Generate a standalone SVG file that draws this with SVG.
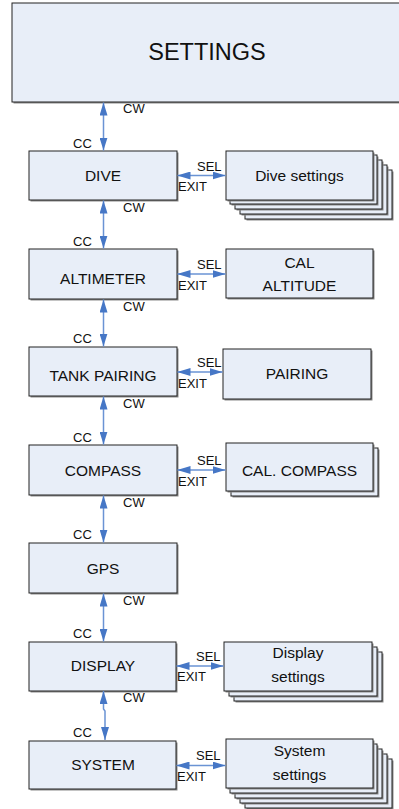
<svg xmlns="http://www.w3.org/2000/svg" width="399" height="809" viewBox="0 0 399 809">
<defs>
<style>
.box{fill:#E8EEF8;stroke:#222;stroke-width:1}
.shadow{fill:#8A8A8A}
.t{font-family:"Liberation Sans",Arial,sans-serif;font-size:15.5px;fill:#111;text-anchor:middle}
.lbl{font-family:"Liberation Sans",Arial,sans-serif;font-size:13px;fill:#111}
.conn{stroke:#6A93D4;stroke-width:1.5;fill:none;marker-start:url(#ah);marker-end:url(#ah)}
</style>
<marker id="ah" markerUnits="userSpaceOnUse" markerWidth="13" markerHeight="8" refX="13" refY="4" orient="auto-start-reverse">
<path d="M0,0 L13,4 L0,8 z" fill="#4677C6"/>
</marker>
</defs>
<rect width="399" height="809" fill="#FFFFFF"/>

<g id="settings">
<rect class="shadow" x="13.5" y="4.5" width="388" height="99"/>
<rect class="box" x="12" y="3" width="388" height="99"/>
<text class="t" x="207" y="60" style="font-size:23.5px">SETTINGS</text>
</g>

<g id="dive">
<rect class="shadow" x="30.5" y="152.5" width="148" height="49"/>
<rect class="box" x="29" y="151" width="148" height="49"/>
<text class="t" x="103" y="181">DIVE</text>
</g>
<g id="dive-settings">
<rect class="shadow" x="246.5" y="171.5" width="147" height="49"/>
<rect class="box" x="245" y="170" width="147" height="49"/>
<rect class="shadow" x="241.5" y="166.5" width="147" height="49"/>
<rect class="box" x="240" y="165" width="147" height="49"/>
<rect class="shadow" x="236.5" y="161.5" width="147" height="49"/>
<rect class="box" x="235" y="160" width="147" height="49"/>
<rect class="shadow" x="231.5" y="156.5" width="147" height="49"/>
<rect class="box" x="230" y="155" width="147" height="49"/>
<rect class="shadow" x="227.5" y="152.5" width="147" height="49"/>
<rect class="box" x="226" y="151" width="147" height="49"/>
<text class="t" x="299.5" y="181">Dive settings</text>
</g>

<g id="altimeter">
<rect class="shadow" x="30.5" y="250.5" width="148" height="50"/>
<rect class="box" x="29" y="249" width="148" height="50"/>
<text class="t" x="103" y="284">ALTIMETER</text>
</g>
<g id="cal-altitude">
<rect class="shadow" x="227.5" y="250.5" width="147" height="49"/>
<rect class="box" x="226" y="249" width="147" height="49"/>
<text class="t" x="299.5" y="268">CAL</text>
<text class="t" x="299.5" y="291">ALTITUDE</text>
</g>

<g id="tank-pairing">
<rect class="shadow" x="30.5" y="348.5" width="148" height="49"/>
<rect class="box" x="29" y="347" width="148" height="49"/>
<text class="t" x="103" y="381">TANK PAIRING</text>
</g>
<g id="pairing">
<rect class="shadow" x="224.5" y="350.5" width="148" height="50"/>
<rect class="box" x="223" y="349" width="148" height="50"/>
<text class="t" x="297" y="379">PAIRING</text>
</g>

<g id="compass">
<rect class="shadow" x="30.5" y="446.5" width="148" height="50"/>
<rect class="box" x="29" y="445" width="148" height="50"/>
<text class="t" x="103" y="476">COMPASS</text>
</g>
<g id="cal-compass">
<rect class="shadow" x="232.5" y="449.5" width="147" height="48"/>
<rect class="box" x="231" y="448" width="147" height="48"/>
<rect class="shadow" x="227.5" y="444.5" width="147" height="48"/>
<rect class="box" x="226" y="443" width="147" height="48"/>
<text class="t" x="299.5" y="476">CAL. COMPASS</text>
</g>

<g id="gps">
<rect class="shadow" x="30.5" y="544.5" width="148" height="50"/>
<rect class="box" x="29" y="543" width="148" height="50"/>
<text class="t" x="103" y="574">GPS</text>
</g>

<g id="display">
<rect class="shadow" x="30.5" y="643.5" width="147" height="49"/>
<rect class="box" x="29" y="642" width="147" height="49"/>
<text class="t" x="103" y="671">DISPLAY</text>
</g>
<g id="display-settings">
<rect class="shadow" x="235.5" y="653.5" width="148" height="49"/>
<rect class="box" x="234" y="652" width="148" height="49"/>
<rect class="shadow" x="230.5" y="648.5" width="148" height="49"/>
<rect class="box" x="229" y="647" width="148" height="49"/>
<rect class="shadow" x="225.5" y="643.5" width="148" height="49"/>
<rect class="box" x="224" y="642" width="148" height="49"/>
<text class="t" x="298" y="658">Display</text>
<text class="t" x="298" y="682">settings</text>
</g>

<g id="system">
<rect class="shadow" x="30.5" y="742.5" width="147" height="48"/>
<rect class="box" x="29" y="741" width="147" height="48"/>
<text class="t" x="103" y="770">SYSTEM</text>
</g>
<g id="system-settings">
<rect class="shadow" x="246.5" y="760.5" width="147" height="49"/>
<rect class="box" x="245" y="759" width="147" height="49"/>
<rect class="shadow" x="241.5" y="755.5" width="147" height="49"/>
<rect class="box" x="240" y="754" width="147" height="49"/>
<rect class="shadow" x="236.5" y="750.5" width="147" height="49"/>
<rect class="box" x="235" y="749" width="147" height="49"/>
<rect class="shadow" x="231.5" y="745.5" width="147" height="49"/>
<rect class="box" x="230" y="744" width="147" height="49"/>
<rect class="shadow" x="227.5" y="740.5" width="147" height="49"/>
<rect class="box" x="226" y="739" width="147" height="49"/>
<text class="t" x="299.5" y="756">System</text>
<text class="t" x="299.5" y="780">settings</text>
</g>

<g id="connectors">
<line class="conn" x1="103.5" y1="102.5" x2="103.5" y2="150.5"/>
<line class="conn" x1="103.5" y1="200.5" x2="103.5" y2="248.5"/>
<line class="conn" x1="103.5" y1="299.5" x2="103.5" y2="346.5"/>
<line class="conn" x1="103.5" y1="396.5" x2="103.5" y2="444.5"/>
<line class="conn" x1="103.5" y1="495.5" x2="103.5" y2="542.5"/>
<line class="conn" x1="103.5" y1="593.5" x2="103.5" y2="641.5"/>
<path class="conn" d="M103.5,691 L103.5,709 L105,711 L105,740"/>
<line class="conn" x1="177.5" y1="175.5" x2="225.5" y2="175.5"/>
<line class="conn" x1="177.5" y1="274" x2="225.5" y2="274"/>
<line class="conn" x1="177.5" y1="372" x2="222.5" y2="372"/>
<line class="conn" x1="177.5" y1="470" x2="225.5" y2="470"/>
<line class="conn" x1="176.5" y1="666" x2="223.5" y2="666"/>
<line class="conn" x1="176.5" y1="765.5" x2="225.5" y2="765.5"/>
<text class="lbl" x="123" y="113">CW</text>
<text class="lbl" x="73" y="148">CC</text>
<text class="lbl" x="123" y="212">CW</text>
<text class="lbl" x="73" y="246">CC</text>
<text class="lbl" x="123" y="311">CW</text>
<text class="lbl" x="73" y="343">CC</text>
<text class="lbl" x="123" y="408">CW</text>
<text class="lbl" x="73" y="442">CC</text>
<text class="lbl" x="123" y="507">CW</text>
<text class="lbl" x="73" y="539">CC</text>
<text class="lbl" x="123" y="605">CW</text>
<text class="lbl" x="73" y="638">CC</text>
<text class="lbl" x="123" y="702">CW</text>
<text class="lbl" x="73" y="737">CC</text>
<text class="lbl" x="197" y="171">SEL</text>
<text class="lbl" x="178" y="191">EXIT</text>
<text class="lbl" x="197" y="269">SEL</text>
<text class="lbl" x="178" y="290">EXIT</text>
<text class="lbl" x="197" y="367">SEL</text>
<text class="lbl" x="178" y="388">EXIT</text>
<text class="lbl" x="197" y="465">SEL</text>
<text class="lbl" x="178" y="486">EXIT</text>
<text class="lbl" x="196" y="661">SEL</text>
<text class="lbl" x="177" y="681">EXIT</text>
<text class="lbl" x="196" y="760">SEL</text>
<text class="lbl" x="177" y="781">EXIT</text>
</g>
</svg>
